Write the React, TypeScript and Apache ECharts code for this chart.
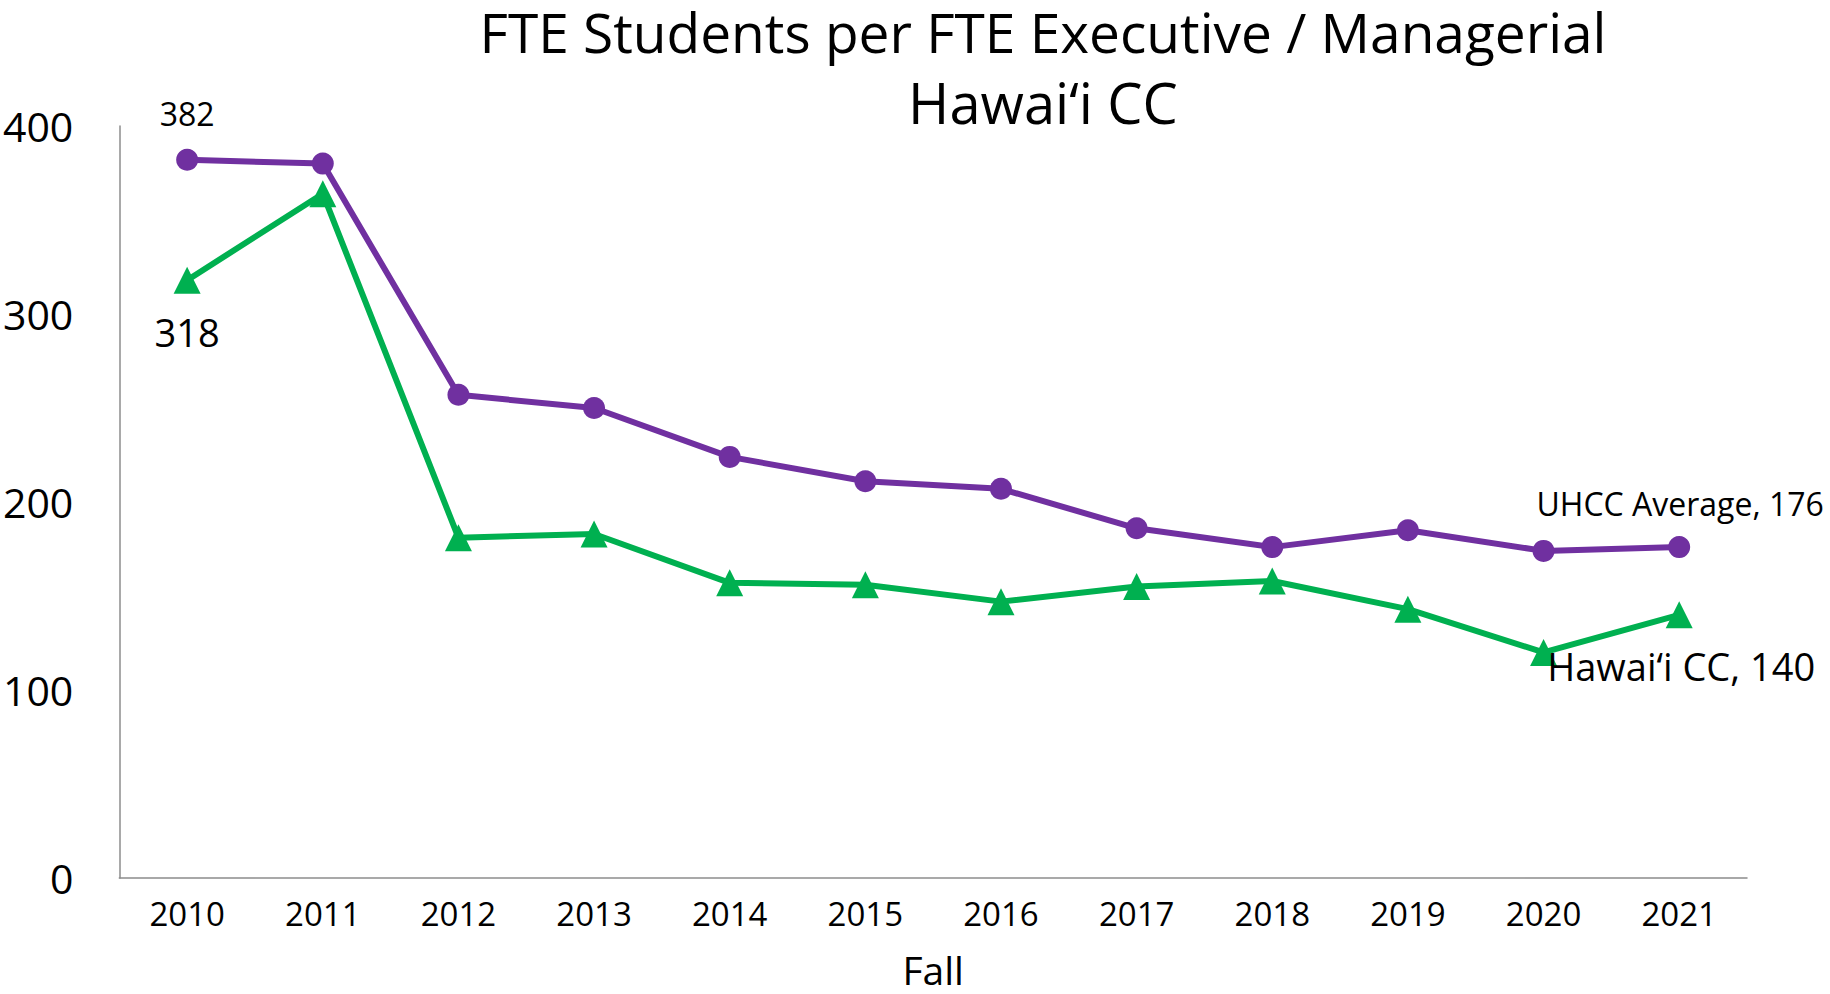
import React, { useEffect, useRef } from "react";
import * as echarts from "echarts";

const years = ["2010", "2011", "2012", "2013", "2014", "2015", "2016", "2017", "2018", "2019", "2020", "2021"];
const uhccAverage = [382, 380, 257, 250, 224, 211, 207, 186, 176, 185, 174, 176];
const hawaiiCC = [318, 364, 181, 183, 157, 156, 147, 155, 158, 143, 120, 140];
const yTicks = [0, 100, 200, 300, 400];
const titleLine1 = "FTE Students per FTE Executive / Managerial";
const titleLine2 = "Hawai\u2018i CC";
const seriesNames = ["UHCC Average", "Hawai\u2018i CC"];

const FONT = "'Open Sans', sans-serif";
const PURPLE = "#7030A0";
const GREEN = "#00B050";

export default function App() {
  const ref = useRef<HTMLDivElement>(null);

  useEffect(() => {
    if (!ref.current) return;
    const chart = echarts.init(ref.current, null, { renderer: "svg" });
    const last = years.length - 1;

    const uhccData = uhccAverage.map((v, i) => {
      if (i === 0) {
        return { value: v, label: { show: true, formatter: String(v), fontSize: 32, offset: [0, -46] } };
      }
      if (i === last) {
        return { value: v, label: { show: true, formatter: `${seriesNames[0]}, ${v}`, fontSize: 32, offset: [1, -44] } };
      }
      return v;
    });
    const hccData = hawaiiCC.map((v, i) => {
      if (i === 0) {
        return { value: v, label: { show: true, formatter: String(v), fontSize: 38, offset: [0, 52] } };
      }
      if (i === last) {
        return { value: v, label: { show: true, formatter: `${seriesNames[1]}, ${v}`, fontSize: 38, offset: [2, 51] } };
      }
      return v;
    });

    chart.setOption({
      animation: false,
      textStyle: { fontFamily: FONT },
      grid: { left: 118, right: 83, top: 126, bottom: 101, containLabel: false },
      graphic: [
        {
          type: "text",
          x: 1043,
          y: 31,
          style: { text: titleLine1, textAlign: "center", textVerticalAlign: "middle", font: `55px ${FONT}`, fill: "#000" },
        },
        {
          type: "text",
          x: 1043,
          y: 102,
          style: { text: titleLine2, textAlign: "center", textVerticalAlign: "middle", font: `56px ${FONT}`, fill: "#000" },
        },
      ],
      xAxis: {
        type: "category",
        data: years,
        boundaryGap: true,
        name: "Fall",
        nameLocation: "middle",
        nameGap: 72,
        nameTextStyle: { fontSize: 39, color: "#000", fontFamily: FONT },
        axisLine: { show: true, lineStyle: { color: "#8c8c8c", width: 1.5 } },
        axisTick: { show: false },
        axisLabel: { fontSize: 33, color: "#000", margin: 19, fontFamily: FONT },
        splitLine: { show: false },
      },
      yAxis: {
        type: "value",
        min: yTicks[0],
        max: yTicks[yTicks.length - 1],
        interval: 100,
        axisLine: { show: true, lineStyle: { color: "#8c8c8c", width: 1.5 } },
        axisTick: { show: false },
        axisLabel: { fontSize: 41, color: "#000", margin: 46, fontFamily: FONT, align: "right" },
        splitLine: { show: false },
      },
      series: [
        {
          name: seriesNames[0],
          type: "line",
          data: uhccData,
          symbol: "circle",
          symbolSize: 22,
          itemStyle: { color: PURPLE },
          lineStyle: { color: PURPLE, width: 6 },
          label: { show: false, position: "inside", color: "#000", fontFamily: FONT },
          z: 3,
        },
        {
          name: seriesNames[1],
          type: "line",
          data: hccData,
          symbol: "triangle",
          symbolSize: 27,
          itemStyle: { color: GREEN },
          lineStyle: { color: GREEN, width: 6 },
          label: { show: false, position: "inside", color: "#000", fontFamily: FONT },
          z: 4,
        },
      ],
    });

    return () => chart.dispose();
  }, []);

  return (
    <div
      ref={ref}
      style={{ position: "fixed", left: 0, top: 0, width: 1830, height: 994, background: "#fff" }}
    />
  );
}
